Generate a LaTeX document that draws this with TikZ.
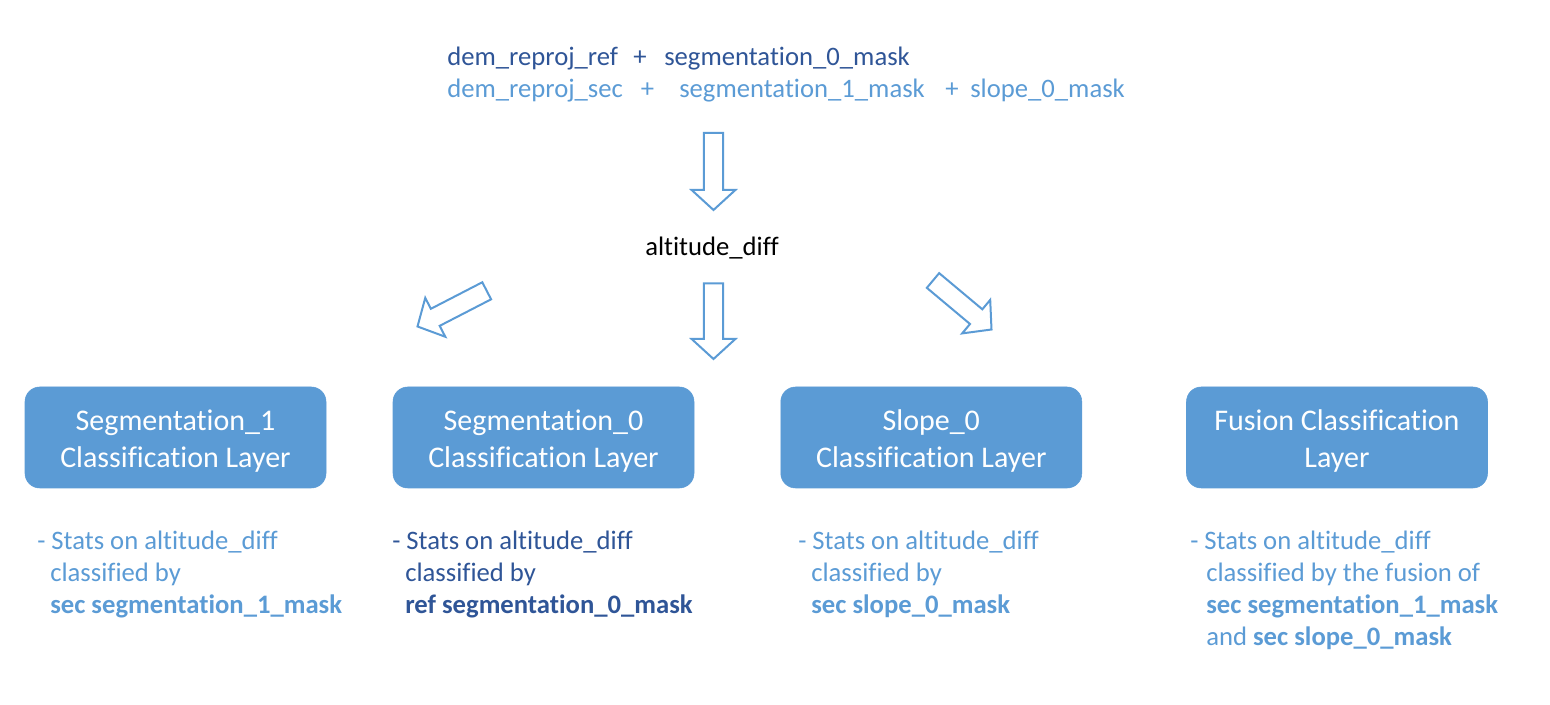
\documentclass[tikz,border=0pt]{standalone}
\usepackage{fontspec}
\setmainfont{Carlito}[Ligatures=CommonOff]
\usetikzlibrary{calc}
\definecolor{lblue}{HTML}{5B9BD5}
\definecolor{dblue}{HTML}{2F5597}
\newcommand{\blockarr}[2]{%
  \path ($(#2)!15pt!(#1)$) coordinate (hb);
  \draw[barrow] ($(#1)!7.2pt!90:(#2)$) -- ($(hb)!7.2pt!-90:(#1)$) -- ($(hb)!16.4pt!-90:(#1)$) -- (#2)
    -- ($(hb)!16.4pt!90:(#1)$) -- ($(hb)!7.2pt!90:(#1)$) -- ($(#1)!7.2pt!-90:(#2)$) -- cycle;}
\begin{document}
\begin{tikzpicture}[x=0.75pt,y=-0.75pt,
  barrow/.style={draw=lblue,fill=white,line width=1.5pt},
  layerbox/.style={fill=lblue,draw=lblue,rounded corners=11pt,minimum width=225.75pt,
    minimum height=75.75pt,inner sep=0pt},
  layertext/.style={inner sep=0pt,text=white,align=center,
    font=\fontsize{22.5}{27.75}\selectfont},
  txt/.style={inner sep=0pt,font=\fontsize{20}{24}\selectfont},
  lw/.style={txt,anchor=base west},
  pl/.style={txt,anchor=base}]
\useasboundingbox (0,0) rectangle (1550,705);
% top inputs
\node[lw,text=dblue] (t1a) at (447,66) {dem\_reproj\_ref};
\node[pl,text=dblue] (t1b) at (640,66) {+};
\node[lw,text=dblue] (t1c) at (664,66) {segmentation\_0\_mask};
\node[lw,text=lblue] (t2a) at (447,98) {dem\_reproj\_sec};
\node[pl,text=lblue] (t2b) at (647.5,98) {+};
\node[lw,text=lblue] (t2c) at (679,98) {segmentation\_1\_mask};
\node[pl,text=lblue] (t2d) at (952,98) {+};
\node[lw,text=lblue] (t2e) at (970,98) {slope\_0\_mask};
% altitude diff
\node[lw,text=black] (ad) at (645,256) {altitude\_diff};
% boxes
\node[layerbox] (b1) at (175.5,437.5) {};
\node[layerbox] (b2) at (543.5,437.5) {};
\node[layerbox] (b3) at (931.3,437.5) {};
\node[layerbox] (b4) at (1337,437.5) {};
\node[layertext] (b1t) at ([yshift=-3pt]b1.center) {Segmentation\_1\\Classification Layer};
\node[layertext] (b2t) at ([yshift=-3pt]b2.center) {Segmentation\_0\\Classification Layer};
\node[layertext] (b3t) at ([yshift=-3pt]b3.center) {Slope\_0\\Classification Layer};
\node[layertext] (b4t) at ([yshift=-3pt]b4.center) {Fusion Classification\\Layer};
% arrow end points
\coordinate (a1s) at (713.5,133);
\coordinate (a1e) at (713.5,210);
\coordinate (a2s) at (713.5,283.5);
\coordinate (a2e) at (713.5,359);
\coordinate (a3s) at (486.7,290.8);
\coordinate (a3e) at (417.5,326.5);
\coordinate (a4s) at (933,280.5);
\coordinate (a4e) at (991.5,329.5);
\blockarr{a1s}{a1e}
\blockarr{a2s}{a2e}
\blockarr{a3s}{a3e}
\blockarr{a4s}{a4e}
% descriptions
\node[lw,text=lblue] (d1a) at (37,550) {- Stats on altitude\_diff};
\node[lw,text=lblue] (d1b) at (50,582) {classified by};
\node[lw,text=lblue] (d1c) at (50,614) {\textbf{sec segmentation\_1\_mask}};
\node[lw,text=dblue] (d2a) at (392,550) {- Stats on altitude\_diff};
\node[lw,text=dblue] (d2b) at (405,582) {classified by};
\node[lw,text=dblue] (d2c) at (405,614) {\textbf{ref segmentation\_0\_mask}};
\node[lw,text=lblue] (d3a) at (798,550) {- Stats on altitude\_diff};
\node[lw,text=lblue] (d3b) at (811,582) {classified by};
\node[lw,text=lblue] (d3c) at (811,614) {\textbf{sec slope\_0\_mask}};
\node[lw,text=lblue] (d4a) at (1190,550) {- Stats on altitude\_diff};
\node[lw,text=lblue] (d4b) at (1206,582) {classified by the fusion of};
\node[lw,text=lblue] (d4c) at (1206,614) {\textbf{sec segmentation\_1\_mask}};
\node[lw,text=lblue] (d4d) at (1206,646) {and \textbf{sec slope\_0\_mask}};
\end{tikzpicture}
\end{document}
